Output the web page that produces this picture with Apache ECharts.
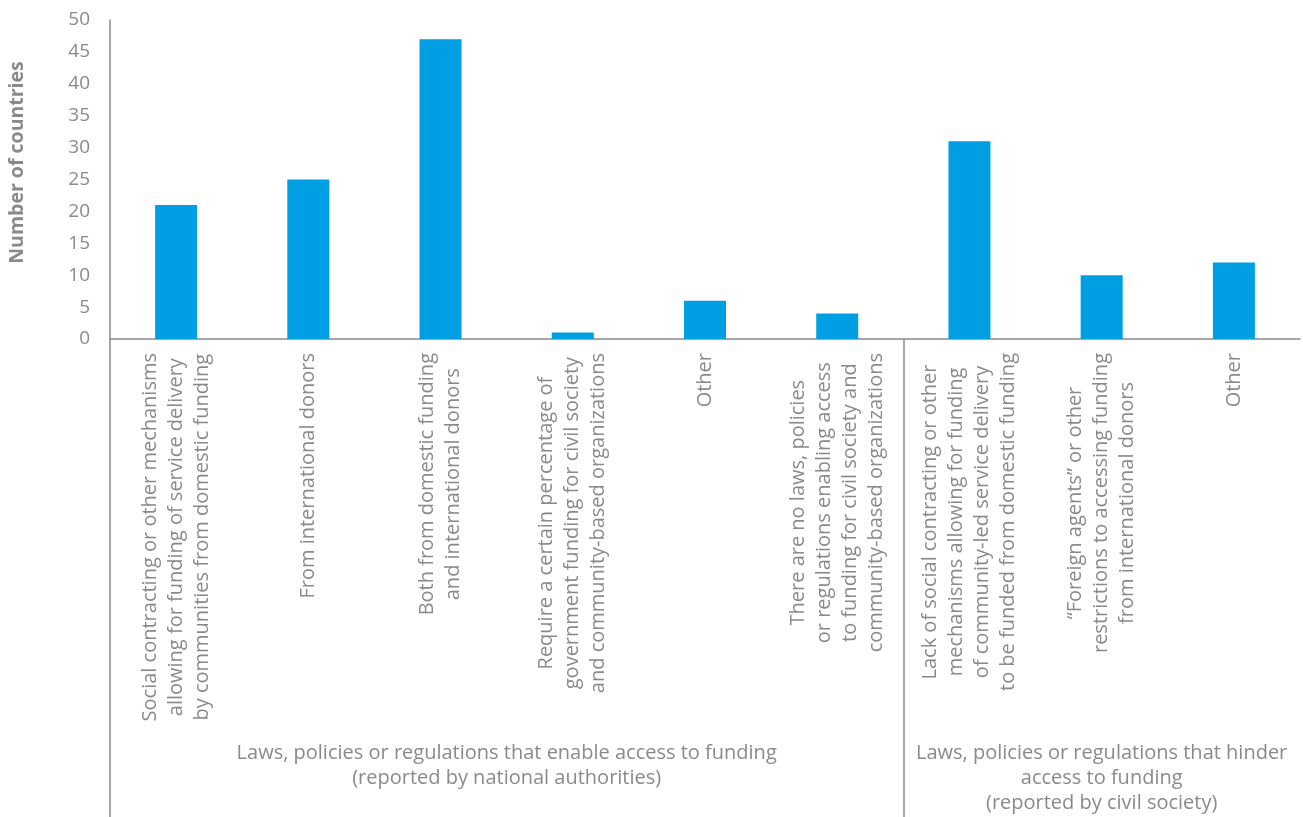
<!DOCTYPE html>
<html>
<head>
<meta charset="utf-8">
<script src="https://cdn.jsdelivr.net/npm/echarts@6/dist/echarts.min.js"></script>
<style>
  html, body { margin: 0; padding: 0; background: #fff; }
  #chart { width: 1303px; height: 817px; }
</style>
</head>
<body>
<div id="chart"></div>
<script>
// category labels, one array entry per bar (lines split on \n)
const categories = [
  "Social contracting or other mechanisms\nallowing for funding of service delivery\nby communities from domestic funding",
  "From international donors",
  "Both from domestic funding\nand international donors",
  "Require a certain percentage of\ngovernment funding for civil society\nand community-based organizations",
  "Other",
  "There are no laws, policies\nor regulations enabling access\nto funding for civil society and\ncommunity-based organizations",
  "Lack of social contracting or other\nmechanisms allowing for funding\nof community-led service delivery\nto be funded from domestic funding",
  "\u201CForeign agents\u201D or other\nrestrictions to accessing funding\nfrom international donors",
  "Other"
];
const counts = [21, 25, 47, 1, 6, 4, 31, 10, 12];

// group captions and where they sit (in category units)
const groupLabels = [
  "Laws, policies or regulations that enable access to funding\n(reported by national authorities)",
  "Laws, policies or regulations that hinder\naccess to funding\n(reported by civil society)"
];
const groupCenters = [3, 7.5];
const groupBounds = [0, 6];

const yTicks = [0, 5, 10, 15, 20, 25, 30, 35, 40, 45, 50];

const gray = "#8a8a8a";
const font = "'Open Sans', Lato, sans-serif";
const labelSize = 20;

const chart = echarts.init(document.getElementById("chart"));

const option = {
  animation: false,
  textStyle: { fontFamily: font },
  grid: { left: 110, right: 3, top: 20, bottom: 478, containLabel: false, outerBoundsMode: "none" },
  xAxis: [
    {
      type: "category",
      data: categories,
      axisLine: { lineStyle: { color: gray, width: 1.5 } },
      axisTick: { show: false },
      axisLabel: {
        interval: 0,
        rotate: 90,
        margin: 14,
        color: gray,
        fontSize: labelSize,
        fontFamily: font,
        lineHeight: 26,
        formatter: (v) => v.split("\n").map((l) => "{c|" + l + "}").join("\n"),
        rich: { c: { align: "center", fontSize: labelSize, lineHeight: 26, color: gray, fontFamily: font } }
      }
    },
    {
      type: "value",
      position: "bottom",
      min: 0,
      max: categories.length,
      axisLine: { show: false },
      splitLine: { show: false },
      axisTick: {
        show: true,
        inside: false,
        length: 478,
        customValues: groupBounds,
        lineStyle: { color: gray, width: 1.5 }
      },
      axisLabel: {
        customValues: groupCenters,
        margin: 402,
        color: gray,
        fontSize: labelSize,
        lineHeight: 25,
        fontFamily: font,
        align: "center",
        formatter: (v) => groupLabels[groupCenters.indexOf(v)] || ""
      }
    }
  ],
  yAxis: {
    type: "value",
    min: yTicks[0],
    max: yTicks[yTicks.length - 1],
    interval: 5,
    name: "Number of countries",
    nameLocation: "middle",
    nameGap: 83,
    nameRotate: 90,
    nameTextStyle: {
      color: gray,
      fontSize: 19.5,
      fontWeight: "bold",
      fontFamily: font,
      padding: [0, 0, 0, 34]
    },
    axisLine: { show: true, lineStyle: { color: gray, width: 1.5 } },
    axisTick: { show: false },
    splitLine: { show: false },
    axisLabel: { color: gray, fontSize: 19, margin: 20, fontFamily: font }
  },
  series: [
    {
      type: "bar",
      data: counts,
      barWidth: 42,
      itemStyle: { color: "#009FE3" },
      xAxisIndex: 0
    }
  ]
};

chart.setOption(option);
</script>
</body>
</html>
